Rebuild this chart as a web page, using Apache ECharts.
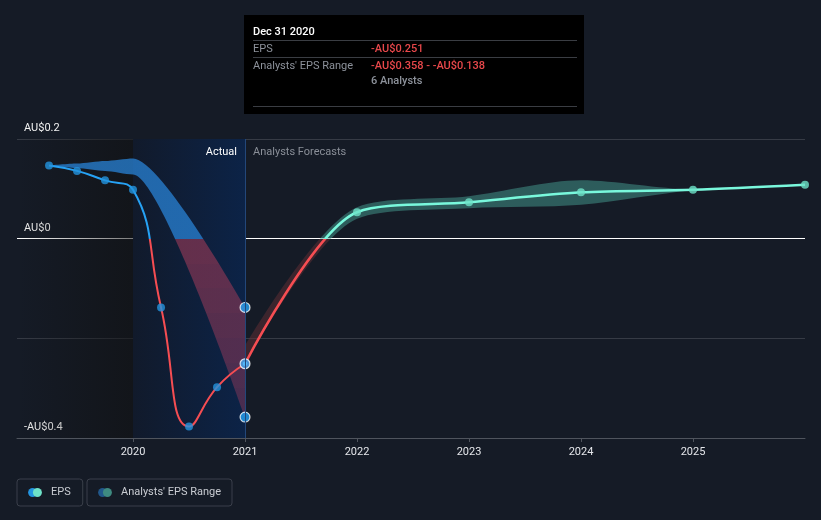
<!DOCTYPE html>
<html>
<head>
<meta charset="utf-8">
<script src="https://cdn.jsdelivr.net/npm/echarts@6/dist/echarts.min.js"></script>
<style>
html, body { margin: 0; padding: 0; background: #151b26; }
#chart { width: 821px; height: 520px; }
</style>
</head>
<body>
<div id="chart"></div>
<script>
// reported EPS (decimal year, AU$)
var actualDates = [2019.25, 2019.5, 2019.75, 2020.0, 2020.25, 2020.5, 2020.75, 2021.0];
var actualEps = [0.147, 0.136, 0.117, 0.098, -0.138, -0.377, -0.298, -0.251];

// analysts' range for the reported period
var rangeDates = [2019.25, 2019.5, 2019.75, 2020.0, 2021.0];
var rangeLow = [0.147, 0.142, 0.136, 0.129, -0.358];
var rangeHigh = [0.147, 0.151, 0.156, 0.161, -0.138];

// forecast EPS and its range
var forecastDates = [2021.0, 2022.0, 2023.0, 2024.0, 2025.0, 2026.0];
var forecastEps = [-0.251, 0.053, 0.073, 0.093, 0.098, 0.108];
var forecastLow = [-0.251, 0.040, 0.061, 0.068, 0.097, 0.108];
var forecastHigh = [-0.215, 0.063, 0.085, 0.117, 0.099, 0.108];

var yearTicks = [2020, 2021, 2022, 2023, 2024, 2025];
var yLabelValues = [0.2, 0, -0.4];
var tipDate = 'Dec 31 2020';
var analystCount = 6;

var xMin = 2018.964, xMax = 2026.0;
var BLUE = '#2394df', RED = '#e0464b', TEAL = '#6ee2c8';
var RANGE = "Analysts' EPS Range";
// fill of the negative part of the range band, deepest first
var negBandColors = ['#4e2b4b', '#532c4b', '#582d4b', '#5d2d4b', '#622e4a', '#672f4a', '#6c2f4a', '#71304a'];

function pairs(xs, ys) {
    return xs.map(function (x, i) { return [x, ys[i]]; });
}
// value first, so that stacking runs on the value column (see encode below)
function bandPairs(xs, ys) {
    return xs.map(function (x, i) { return [ys[i], x]; });
}
function diff(hi, lo) {
    return hi.map(function (v, i) { return +(v - lo[i]).toFixed(4); });
}
function aud(v, digits) {
    return (v < 0 ? '-' : '') + 'AU$' + (+Math.abs(v).toFixed(digits));
}
function hgrad(a, b) {
    return { type: 'linear', x: 0, y: 0, x2: 1, y2: 0, colorStops: [{ offset: 0, color: a }, { offset: 1, color: b }] };
}
function icon(c1, c2) {
    var svg = '<svg xmlns="http://www.w3.org/2000/svg" width="14" height="9">' +
        '<circle cx="4.6" cy="4.5" r="4.5" fill="' + c1 + '"/>' +
        '<circle cx="9.4" cy="4.5" r="4.5" fill="' + c2 + '"/></svg>';
    return 'image://data:image/svg+xml;charset=utf-8,' + encodeURIComponent(svg);
}
function hover(pt) {
    return { value: pt, symbolSize: 9, itemStyle: { borderColor: '#fff', borderWidth: 1.2 } };
}
function rangePieces() {
    var step = 0.05, n = negBandColors.length;
    var pieces = negBandColors.map(function (c, i) {
        var lo = i === 0 ? -10 : +(-step * (n - i)).toFixed(2);
        var hi = +(-step * (n - i - 1)).toFixed(2);
        return { gte: lo, lt: hi, color: c };
    });
    pieces.push({ gte: 0, lte: 10, color: '#2473bd' });
    return pieces;
}

function tipHtml() {
    var i = actualEps.length - 1, j = rangeLow.length - 1;
    var row = 'display:flex;height:15px;line-height:15px;';
    var lab = 'width:118px;color:#8d929b;';
    var red = 'color:#e8484b;font-weight:500;';
    var hr = '<div style="height:1px;background:#3a3d43;"></div>';
    return '<div style="width:324px;padding:9px 7px 7px 9px;font-family:Roboto,sans-serif;font-size:11px;">' +
        '<div style="height:16px;line-height:16px;color:#fff;font-weight:500;">' + tipDate + '</div>' + hr +
        '<div style="' + row + 'height:16px;line-height:16px;"><span style="' + lab + '">EPS</span>' +
        '<span style="' + red + '">' + aud(actualEps[i], 3) + '</span></div>' + hr +
        '<div style="' + row + '"><span style="' + lab + '">' + RANGE + '</span>' +
        '<span style="' + red + '">' + aud(rangeLow[j], 3) + ' - ' + aud(rangeHigh[j], 3) + '</span></div>' +
        '<div style="' + row + '"><span style="' + lab + '"></span>' +
        '<span style="color:#8d929b;font-weight:500;">' + analystCount + ' Analysts</span></div>' +
        '<div style="height:18px;"></div>' + hr + '</div>';
}

var chart = echarts.init(document.getElementById('chart'));

var legendBase = {
    top: 479, orient: 'horizontal', selectedMode: false,
    padding: [8, 12, 8, 11], borderColor: '#3a3f4a', borderWidth: 1, borderRadius: 3,
    itemWidth: 14, itemHeight: 9,
    textStyle: { color: '#c9ccd2', fontSize: 11, padding: [0, 0, 0, 4] }
};

var bandLine = {
    type: 'line', stackStrategy: 'all', silent: true, encode: { x: 1, y: 0 },
    symbol: 'none', lineStyle: { width: 0 }, z: 2
};

var option = {
    backgroundColor: '#151b26',
    animation: false,
    textStyle: { fontFamily: 'Roboto, sans-serif' },
    grid: { left: 17, right: 16, top: 139, bottom: 82 },
    legend: [
        Object.assign({}, legendBase, { left: 17, data: [{ name: 'EPS', icon: icon(BLUE, TEAL) }] }),
        Object.assign({}, legendBase, { left: 87, padding: [8, 11, 8, 11], data: [{ name: RANGE, icon: icon('#21578a', '#3e8a80') }] })
    ],
    tooltip: {
        trigger: 'axis', triggerOn: 'none', alwaysShowContent: true, transitionDuration: 0,
        axisPointer: { type: 'line', snap: false, animation: false, label: { show: false },
            lineStyle: { color: '#23477a', width: 1, type: 'solid' } },
        position: [244, 15], padding: 0, backgroundColor: '#000', borderWidth: 0,
        extraCssText: 'border-radius:0;box-shadow:none;',
        formatter: tipHtml
    },
    xAxis: {
        type: 'value', min: xMin, max: xMax,
        axisLine: { onZero: false, lineStyle: { color: '#4f545d' } },
        axisTick: { show: true, length: 4, lineStyle: { color: '#4f545d' }, customValues: yearTicks },
        axisLabel: { color: '#e4e6ea', fontSize: 11, margin: 9, customValues: yearTicks,
            formatter: function (v) { return String(Math.round(v)); } },
        splitLine: { show: false }
    },
    yAxis: {
        type: 'value', min: -0.4, max: 0.2, interval: 0.2,
        axisLine: { show: false }, axisTick: { show: false },
        axisLabel: {
            inside: true, margin: 7, verticalAlign: 'bottom', padding: [0, 0, 5, 0],
            color: '#f2f2f2', fontSize: 11,
            formatter: function (v) {
                var keep = yLabelValues.some(function (t) { return Math.abs(t - v) < 1e-6; });
                return keep ? aud(v, 1) : '';
            }
        },
        splitLine: { lineStyle: { width: 1, color: ['#4f545d', '#363b45', '#ffffff', '#363b45'] } }
    },
    visualMap: [
        { show: false, type: 'piecewise', seriesIndex: 4, dimension: 1,
          pieces: [{ gte: -10, lt: 0, color: RED }, { gte: 0, lte: 10, color: BLUE }] },
        { show: false, type: 'piecewise', seriesIndex: 5, dimension: 1,
          pieces: [{ gte: -10, lt: 0, color: RED }, { gte: 0, lte: 10, color: TEAL }] },
        { show: false, type: 'piecewise', seriesIndex: 1, dimension: 0, pieces: rangePieces() },
        { show: false, type: 'piecewise', seriesIndex: 3, dimension: 0,
          pieces: [{ gte: -10, lt: 0, color: '#5a2a30' }, { gte: 0, lte: 10, color: '#3f8f84' }] }
    ],
    series: [
        Object.assign({}, bandLine, {
            name: RANGE, stack: 'range', data: bandPairs(rangeDates, rangeLow),
            smooth: 0.25, smoothMonotone: 'x',
            markArea: {
                silent: true,
                data: [
                    [{ xAxis: xMin, label: { show: false },
                       itemStyle: { opacity: 1, color: hgrad('rgba(16,16,16,0)', 'rgba(16,16,16,0.55)') } },
                     { xAxis: 2020 }],
                    [{ xAxis: 2020, name: 'Actual',
                       itemStyle: { opacity: 1, color: hgrad('#111a2b', '#0c2347') },
                       label: { show: true, position: 'insideTopRight', distance: 5, offset: [-3, 3],
                                color: '#ffffff', fontSize: 11 } },
                     { xAxis: 2021 }],
                    [{ xAxis: 2021, name: 'Analysts Forecasts',
                       itemStyle: { opacity: 0, color: '#000' },
                       label: { show: true, position: 'insideTopLeft', distance: 5, offset: [3, 3],
                                color: '#8a8f98', fontSize: 11 } },
                     { xAxis: xMax }]
                ]
            }
        }),
        Object.assign({}, bandLine, {
            name: RANGE, stack: 'range', data: bandPairs(rangeDates, diff(rangeHigh, rangeLow)),
            smooth: 0.25, smoothMonotone: 'x', areaStyle: { opacity: 0.78 }
        }),
        Object.assign({}, bandLine, {
            name: RANGE, stack: 'fband', data: bandPairs(forecastDates, forecastLow), smooth: 0.3
        }),
        Object.assign({}, bandLine, {
            name: RANGE, stack: 'fband', data: bandPairs(forecastDates, diff(forecastHigh, forecastLow)),
            smooth: 0.3, areaStyle: { opacity: 0.5 }
        }),
        {
            name: 'EPS', type: 'line', silent: true, data: pairs(actualDates, actualEps),
            smooth: 0.5, showSymbol: false, lineStyle: { width: 2 }, z: 4
        },
        {
            name: 'EPS', type: 'line', silent: true, data: pairs(forecastDates, forecastEps),
            smooth: 0.3, showSymbol: false, lineStyle: { width: 2.5 }, z: 4
        },
        {
            name: 'EPS', type: 'scatter', silent: true, symbolSize: 8, itemStyle: { color: BLUE }, z: 6,
            data: pairs(actualDates, actualEps).map(function (p, i, all) {
                return i === all.length - 1 ? hover(p) : p;
            })
        },
        {
            name: 'EPS', type: 'scatter', silent: true, symbolSize: 8, itemStyle: { color: TEAL }, z: 6,
            data: pairs(forecastDates, forecastEps).slice(1)
        },
        {
            name: RANGE, type: 'scatter', silent: true, itemStyle: { color: BLUE }, z: 6,
            data: [
                hover([rangeDates[rangeDates.length - 1], rangeHigh[rangeHigh.length - 1]]),
                hover([rangeDates[rangeDates.length - 1], rangeLow[rangeLow.length - 1]])
            ]
        }
    ]
};

chart.setOption(option);
chart.dispatchAction({ type: 'showTip', seriesIndex: 6, dataIndex: actualDates.length - 1 });
</script>
</body>
</html>
